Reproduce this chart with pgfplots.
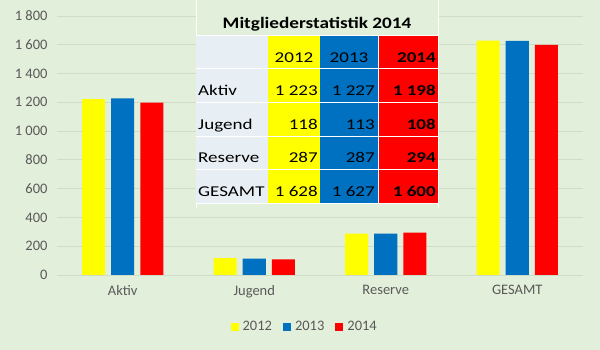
\documentclass[border=0pt]{standalone}
\usepackage{pgfplots}
\pgfplotsset{compat=1.18}
\usepackage{graphicx}
\usepackage{fontspec}
\setmainfont{Carlito}
\definecolor{bg}{HTML}{E2EFDA}
\definecolor{gridc}{HTML}{CFDCC7}
\definecolor{txt}{HTML}{595959}
\definecolor{cy}{HTML}{FFFF00}
\definecolor{cb}{HTML}{0070C0}
\definecolor{cr}{HTML}{FF0000}
\definecolor{cg}{HTML}{E8EFF4}
\newcommand\st[1]{\scalebox{1.27}[1]{#1}}
\begin{document}
\begin{tikzpicture}
\path[use as bounding box, fill=bg] (0pt,0pt) rectangle (600pt,350pt);
\begin{axis}[
  at={(57pt,75pt)}, anchor=south west, scale only axis,
  width=526pt, height=259pt,
  xmin=-0.5, xmax=3.5, ymin=0, ymax=1800,
  ybar=6pt, bar width=23pt,
  axis line style={draw=none}, major tick length=0pt,
  ymajorgrids, grid style={gridc, line width=0.8pt},
  xtick={0,1,2,3}, xticklabels={Aktiv,Jugend,Reserve,GESAMT},
  ytick={0,200,...,1800},
  yticklabels={0,200,400,600,800,1 000,1 200,1 400,1 600,1 800},
  tick label style={font=\fontsize{14.5}{16}\selectfont, text=txt},
  xticklabel style={yshift=-7pt}, yticklabel style={xshift=-6pt},
  legend style={at={(0.471,-0.2)}, anchor=center, draw=none, fill=none,
    legend columns=3, font=\fontsize{14.5}{16}\selectfont, text=txt,
    /tikz/every odd column/.append style={column sep=2pt},
    /tikz/every even column/.append style={column sep=9pt}},
  legend image code/.code={\fill[#1] (0pt,-4pt) rectangle (8pt,4pt);},
]
\addplot[fill=cy, draw=none] coordinates {(0,1223) (1,118) (2,287) (3,1628)};
\addplot[fill=cb, draw=none] coordinates {(0,1227) (1,113) (2,287) (3,1627)};
\addplot[fill=cr, draw=none] coordinates {(0,1198) (1,108) (2,294) (3,1600)};
\legend{2012,2013,2014}
\end{axis}
\begin{scope}[x=1pt,y=1pt]
\fill[bg] (196,350) rectangle (438,142);
\draw[white, line width=1pt] (196,350) -- (196,142);
\draw[white, line width=1pt] (438.5,350) -- (438.5,142);
\fill[cg] (196,315) rectangle (268,147);
\fill[cy] (268,315) rectangle (320,147);
\fill[cb] (320,315) rectangle (378,147);
\fill[cr] (378,315) rectangle (438,147);
\foreach \yy in {315,282,248,214,181,147} \draw[white, line width=0.9pt] (196,\yy) -- (438,\yy);
\draw[white, line width=0.6pt] (378,315) -- (378,147);
\node[font=\fontsize{16}{19}\selectfont\bfseries, anchor=base, inner sep=0] at (317,321) {\scalebox{1.2}[1]{Mitgliederstatistik 2014}};
\begin{scope}[every node/.style={font=\fontsize{15}{18}\selectfont, inner sep=0}]
\node[anchor=base] at (294,287) {\st{2012}};
\node[anchor=base] at (349,287) {\st{2013}};
\node[anchor=base east] at (436,287) {\st{\bfseries 2014}};
\node[anchor=base west] at (198,254) {\st{Aktiv}};
\node[anchor=base west] at (198,220) {\st{Jugend}};
\node[anchor=base west] at (198,187) {\st{Reserve}};
\node[anchor=base west] at (198,153) {\st{GESAMT}};
\node[anchor=base east] at (318,254) {\st{1 223}};
\node[anchor=base east] at (318,220) {\st{118}};
\node[anchor=base east] at (318,187) {\st{287}};
\node[anchor=base east] at (318,153) {\st{1 628}};
\node[anchor=base east] at (375,254) {\st{1 227}};
\node[anchor=base east] at (375,220) {\st{113}};
\node[anchor=base east] at (375,187) {\st{287}};
\node[anchor=base east] at (375,153) {\st{1 627}};
\node[anchor=base east] at (436,254) {\st{\bfseries 1 198}};
\node[anchor=base east] at (436,220) {\st{\bfseries 108}};
\node[anchor=base east] at (436,187) {\st{\bfseries 294}};
\node[anchor=base east] at (436,153) {\st{\bfseries 1 600}};
\end{scope}
\end{scope}
\end{tikzpicture}
\end{document}
